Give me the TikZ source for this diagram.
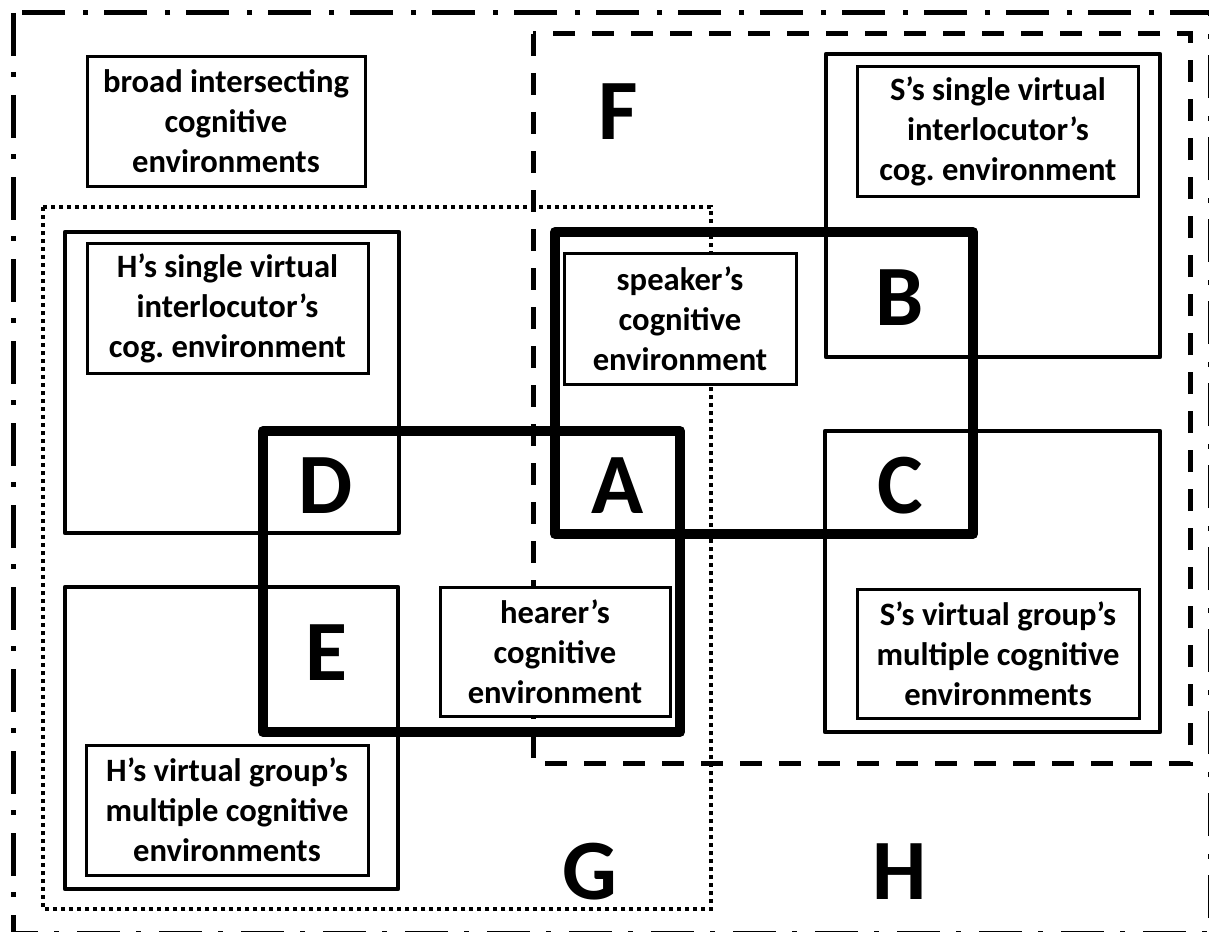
\documentclass[tikz,border=0pt]{standalone}
\usepackage{fontspec}
\setmainfont{Carlito}
\usetikzlibrary{positioning}

\begin{document}
\frenchspacing
\begin{tikzpicture}[x=0.5pt, y=-0.5pt,
  outerline/.style={line width=2.5pt, dash pattern=on 21.5pt off 8pt on 2.5pt off 9pt},
  sideline/.style={line width=2.5pt, dash pattern=on 11pt off 8.5pt},
  dotline/.style={line width=2.4pt, dash pattern=on 2.2pt off 1.8pt},
  region/.style={line width=2.2pt, line join=round},
  heavy/.style={line width=5pt, line join=round},
  textbox/.style={draw, fill=white, line width=1.5pt, inner sep=0pt, align=center,
    font=\fontsize{16.3}{20}\selectfont\bfseries},
  letter/.style={inner sep=0pt, font=\fontsize{43}{43}\selectfont\bfseries}]

  \useasboundingbox (0,0) rectangle (1209,931);

  % the three big areas
  \draw[outerline] (13,13) rectangle (1210,933);
  \draw[sideline] (533,34) rectangle (1190,763);
  \draw[dotline] (43,207) rectangle (711,909);

  % virtual interlocutors
  \draw[region] (65,232) rectangle (399,533);
  \draw[region] (65,587) rectangle (398,889);
  \draw[region] (826,54) rectangle (1160,357);
  \draw[region] (825,431) rectangle (1160,732);

  % speaker and hearer
  \draw[heavy] (555,232) rectangle (973,534);
  \draw[heavy] (263,431) rectangle (680,732);

  \node[textbox, minimum width=139pt, minimum height=64.5pt] (broad) at (226,121.5)
    {broad intersecting\\cognitive\\environments};
  \node[textbox, minimum width=140.5pt, minimum height=65pt] (hsingle) at (227.5,308)
    {H’s single virtual\\interlocutor’s\\cog. environment};
  \node[textbox, minimum width=116pt, minimum height=65.5pt] (speaker) at (680,318.5)
    {speaker’s\\cognitive\\environment};
  \node[textbox, minimum width=115pt, minimum height=64.5pt] (hearer) at (555,651.5)
    {hearer’s\\cognitive\\environment};
  \node[textbox, minimum width=140.5pt, minimum height=65pt] (ssingle) at (998,131.5)
    {S’s single virtual\\interlocutor’s\\cog. environment};
  \node[textbox, minimum width=141pt, minimum height=64.5pt] (sgroup) at (998,653.5)
    {S’s virtual group’s\\multiple cognitive\\environments};
  \node[textbox, minimum width=141pt, minimum height=65pt] (hgroup) at (227,810)
    {H’s virtual group’s\\multiple cognitive\\environments};

  \node[letter] (F) at (618,112) {F};
  \node[letter] (B) at (900,298) {B};
  \node[letter] (D) at (326,486) {D};
  \node[letter] (A) at (618,486) {A};
  \node[letter] (C) at (900,486) {C};
  \node[letter] (E) at (326,653) {E};
  \node[letter] (G) at (590,872) {G};
  \node[letter] (H) at (900,872) {H};
\end{tikzpicture}
\end{document}
